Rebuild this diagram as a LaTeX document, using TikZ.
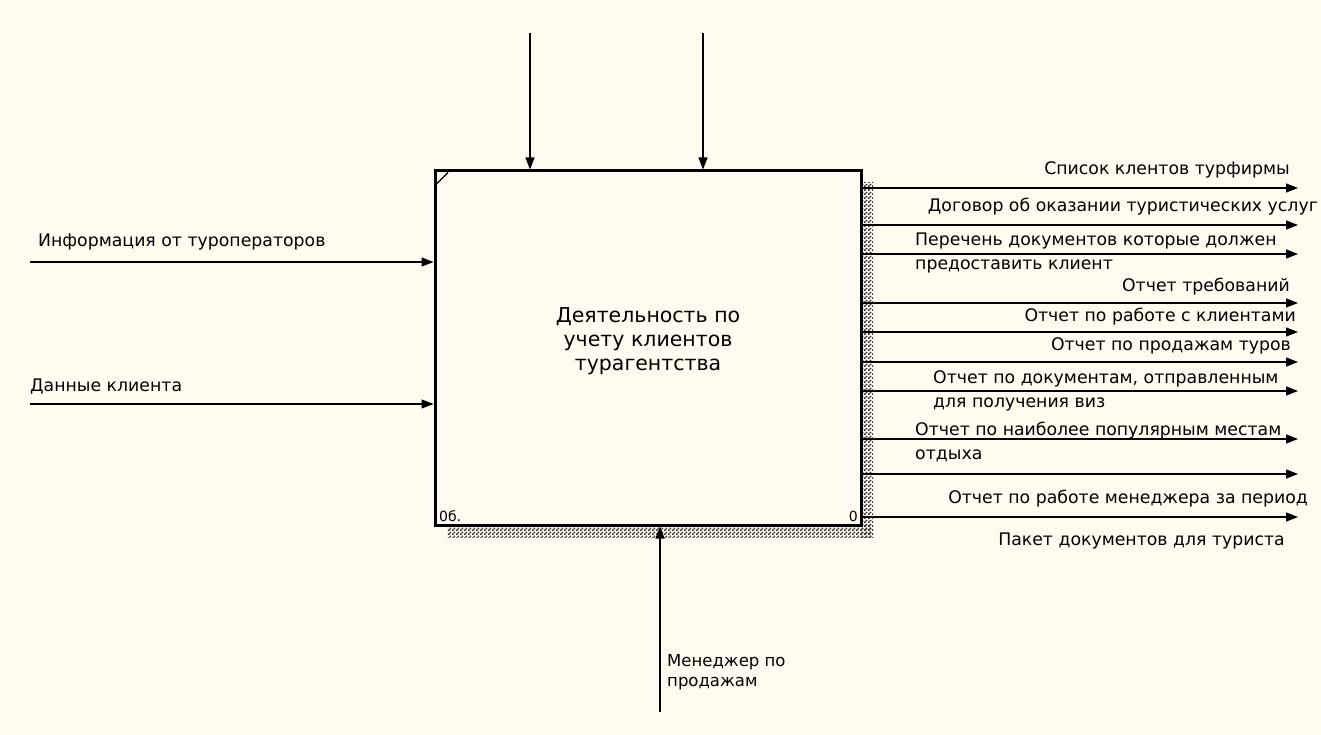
\documentclass[tikz,border=0pt]{standalone}
\usepackage{fontspec}
\setmainfont{DejaVu Sans}
\usetikzlibrary{arrows.meta,patterns}
\definecolor{bgc}{RGB}{255,251,240}
\pgfdeclarepatternformonly{finechecker}{\pgfpointorigin}{\pgfpoint{4pt}{4pt}}{\pgfpoint{4pt}{4pt}}{%
  \pgfpathrectangle{\pgfpoint{0pt}{0pt}}{\pgfpoint{2pt}{2pt}}%
  \pgfpathrectangle{\pgfpoint{2pt}{2pt}}{\pgfpoint{2pt}{2pt}}%
  \pgfusepath{fill}}
\tikzset{
  arr/.style={line width=1.3pt,-{Triangle[length=12pt,width=9pt]}},
  lbl/.style={inner sep=0pt,font=\fontsize{17.3}{24}\selectfont},
  shadow/.style={pattern=finechecker,pattern color=black!85,draw=none},
}
\begin{document}
\begin{tikzpicture}[x=1pt,y=-1pt]
\useasboundingbox[fill=bgc] (0,0) rectangle (1321,735);
% shadow
\fill[shadow] (861,183) rectangle (873,537);
\fill[shadow] (447,525) rectangle (873,537);
% box
\node[draw,line width=3pt,fill=bgc,minimum width=426pt,minimum height=354pt,inner sep=0pt] (box) at (648,348) {};
\node[inner sep=0pt,align=center,font=\fontsize{20.5}{24}\selectfont] (title) at (648,341)
  {Деятельность по\\учету клиентов\\турагентства};
\draw[line width=1.2pt] (436.5,184) -- (448,172.5);
\node[lbl,anchor=west,font=\fontsize{14}{16}\selectfont] (n1) at (439,516) {0б.};
\node[lbl,anchor=east,font=\fontsize{14}{16}\selectfont] (n2) at (858,516) {0};
% controls
\coordinate (c1) at (530,33);
\coordinate (c2) at (703,33);
\draw[arr] (c1) -- (c1 |- box.north);
\draw[arr] (c2) -- (c2 |- box.north);
% inputs
\coordinate (i1) at (30,262);
\coordinate (i2) at (30,404);
\draw[arr] (i1) -- (i1 -| box.west);
\draw[arr] (i2) -- (i2 -| box.west);
\node[lbl,anchor=west] (li1) at (38,242) {Информация от туроператоров};
\node[lbl,anchor=west] (li2) at (30,387) {Данные клиента};
% mechanism
\coordinate (m1) at (660,712);
\draw[arr] (m1) -- (m1 |- box.south);
\node[lbl,anchor=north west,align=left,font=\fontsize{16.5}{20}\selectfont] (lm) at (667,654) {Менеджер по\\продажам};
% outputs
\foreach \n/\y in {1/188,2/225,3/254,4/303,5/332,6/362,7/391,8/439,9/474,10/517}{
  \coordinate (o\n) at (1298,\y);
  \draw[arr] (box.east |- o\n) -- (o\n);
}
\node[lbl,anchor=east] (l1) at (1290,170) {Список клентов турфирмы};
\node[lbl,anchor=east] (l2) at (1318,207) {Договор об оказании туристических услуг};
\node[lbl,anchor=west,align=left] (l3) at (915,253) {Перечень документов которые должен\\предоставить клиент};
\node[lbl,anchor=east] (l4) at (1290,287) {Отчет требований};
\node[lbl,anchor=east] (l5) at (1296,317) {Отчет по работе с клиентами};
\node[lbl,anchor=east] (l6) at (1291,346) {Отчет по продажам туров};
\node[lbl,anchor=west,align=left] (l7) at (933,391) {Отчет по документам, отправленным\\для получения виз};
\node[lbl,anchor=west,align=left] (l8) at (915,442) {Отчет по наиболее популярным местам\\отдыха};
\node[lbl,anchor=east] (l9) at (1308,499) {Отчет по работе менеджера за период};
\node[lbl,anchor=east] (l10) at (1285,541) {Пакет документов для туриста};
\end{tikzpicture}
\end{document}
